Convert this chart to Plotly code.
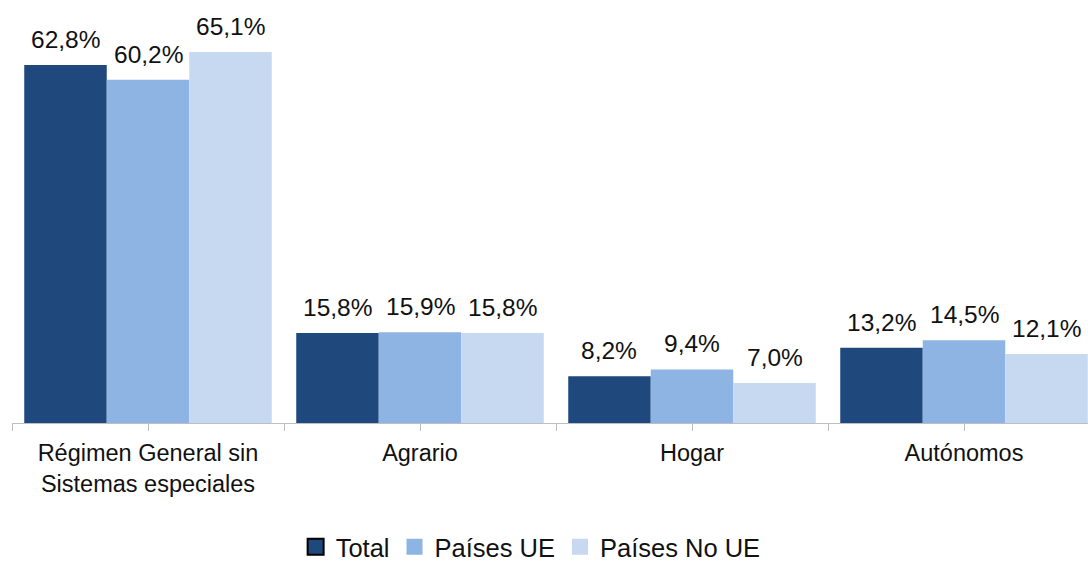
import plotly.graph_objects as go

categories = ["Régimen General sin<br>Sistemas especiales", "Agrario", "Hogar", "Autónomos"]
series_names = ["Total", "Países UE", "Países No UE"]
total = [62.8, 15.8, 8.2, 13.2]
paises_ue = [60.2, 15.9, 9.4, 14.5]
paises_no_ue = [65.1, 15.8, 7.0, 12.1]
colors = ["#1F497D", "#8EB4E3", "#C6D9F1"]

FONT = "Liberation Sans, Arial, Helvetica, sans-serif"
series = [total, paises_ue, paises_no_ue]
x_idx = list(range(len(categories)))
bargap = 0.09
bw = (1 - bargap) / 3

fig = go.Figure()
for name, vals, col in zip(series_names, series, colors):
    fig.add_trace(go.Bar(x=x_idx, y=vals, name=name, marker=dict(color=col, line=dict(width=0)),
                         showlegend=False, hoverinfo="y"))

# legend entries (squares)
for k, (name, col) in enumerate(zip(series_names, colors)):
    fig.add_trace(go.Scatter(x=[None], y=[None], mode="markers", name=name,
                             marker=dict(symbol="square", size=16, color=col,
                                         line=dict(color="#000000" if k == 0 else col, width=2 if k == 0 else 0))))

def fmt(v):
    return f"{v:.1f}".replace(".", ",") + "%"

for j, vals in enumerate(series):
    for i, v in enumerate(vals):
        fig.add_annotation(x=i + (j - 1) * bw, y=v, text=fmt(v), showarrow=False,
                           xref="x", yref="y", yanchor="bottom", yshift=10,
                           font=dict(family=FONT, size=24.5, color="#111111"))

tickvals = []
ticktext = []
for i in range(len(categories)):
    tickvals += [i - 0.5, i]
    ticktext += ["", categories[i]]
tickvals.append(len(categories) - 0.5)
ticktext.append("")

fig.update_layout(
    width=1088, height=620,
    margin=dict(l=12, r=0, t=24, b=620 - 24 - 399),
    paper_bgcolor="white", plot_bgcolor="white",
    barmode="group", bargap=bargap, bargroupgap=0,
    font=dict(family=FONT, size=23.5, color="#111111"),
    xaxis=dict(range=[-0.5, -0.5 + 1076 / 272], tickmode="array", tickvals=tickvals, ticktext=ticktext,
               showline=True, linecolor="#BFBFBF", linewidth=1, ticks="outside", ticklen=7,
               tickcolor="#BFBFBF", tickwidth=1, showgrid=False, zeroline=False,
               ticklabelstandoff=2,
               tickfont=dict(family=FONT, size=23.5, color="#111111")),
    yaxis=dict(range=[0, 70], visible=False, showgrid=False, zeroline=False),
    legend=dict(orientation="h", x=0.482, xanchor="center", y=-0.311, yanchor="middle",
                font=dict(family=FONT, size=25.5, color="#111111"), itemsizing="trace",
                bgcolor="rgba(0,0,0,0)"),
)

fig.write_html(
    "out.html",
    config={"displayModeBar": False},
    post_script="document.body.style.margin='0';document.body.style.overflow='hidden';"
                "document.documentElement.style.overflow='hidden';",
)
